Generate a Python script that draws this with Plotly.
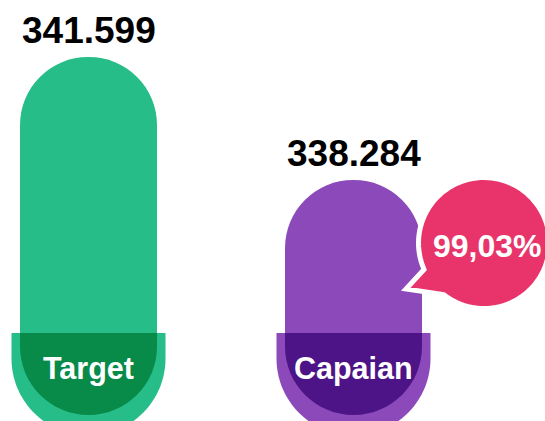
import math
import plotly.graph_objects as go

# ---------------- data ----------------
categories = ["Target", "Capaian"]
values = [341599, 338284]
bar_colors = ["#27BD89", "#8B49BA"]
dark_colors = ["#088A49", "#4D1487"]
bubble_color = "#E8346A"

value_labels = [f"{v:,}".replace(",", ".") for v in values]
pct = values[1] / values[0] * 100
pct_label = f"{pct:.2f}".replace(".", ",") + "%"

# ---------------- scale ----------------
W, H = 545, 421
Y_MIN, Y_MAX = 331790, 343135
k = (Y_MAX - Y_MIN) / H            # data units per pixel
pill_base = Y_MAX - 333 * k        # top of the label caps
bar_floor = Y_MAX - 415 * k        # bars start here (hidden under caps)
label_y = Y_MAX - 368 * k

xs = list(range(len(categories)))
px_per_x = 265.0
x_left = -88.5 / px_per_x
x_right = (W - 88.5) / px_per_x
bar_w = 137 / px_per_x

fig = go.Figure()

# main pill bars (rounded ends; the bottom end is covered by the cap)
fig.add_trace(go.Bar(
    x=xs, y=[v - bar_floor for v in values], base=[bar_floor] * len(values), width=bar_w,
    marker=dict(color=bar_colors, cornerradius="50%", line=dict(width=0)),
    hoverinfo="skip"))


def cap_path(hw, length):
    """Rounded-bottom cap, pixel offsets (y up) relative to its top centre."""
    r = hw
    c = 0.5523 * r
    s = length - r
    return ("M{a},0 L{a},{b} C{a},{d} {e},{f} 0,{f} C{g},{f} {h},{d} {h},{b} L{h},0 Z"
            .format(a=-hw, b=-s, d=-s - c, e=-c, f=-length, g=c, h=hw))


shapes = []
for i in range(len(categories)):
    shapes.append(dict(type="path", path=cap_path(77, 102.5), xref="x", yref="y",
                       xsizemode="pixel", ysizemode="pixel", xanchor=xs[i], yanchor=pill_base,
                       fillcolor=bar_colors[i], line=dict(width=0), layer="above"))
    shapes.append(dict(type="path", path=cap_path(68.5, 82), xref="x", yref="y",
                       xsizemode="pixel", ysizemode="pixel", xanchor=xs[i], yanchor=pill_base,
                       fillcolor=dark_colors[i], line=dict(width=0), layer="above"))

FONT = "Liberation Sans, Arial, Helvetica, sans-serif"
annotations = []
for i, (v, lab, cat) in enumerate(zip(values, value_labels, categories)):
    annotations.append(dict(
        x=xs[i], y=v, text=lab, showarrow=False, xanchor="center", yanchor="bottom",
        yshift=4, font=dict(family=FONT, size=37, color="#000000", weight="bold")))
    annotations.append(dict(
        x=xs[i], y=label_y, text=cat, showarrow=False, xanchor="center", yanchor="middle",
        font=dict(family=FONT, size=30.5, color="#FFFFFF", weight="bold")))

# speech bubble next to Capaian bar (pixel offsets relative to bar top)
cx, cy, R = 130.5, -63.0, 65.5
a_start, a_end = 232.0, 203.7 + 360.0
tip = (cx - 78.0, cy - 46.0)
n = 96
pts = []
for j in range(n + 1):
    a = math.radians(a_start + (a_end - a_start) * j / n)
    pts.append((cx + R * math.cos(a), cy + R * math.sin(a)))
path = "M{:.2f},{:.2f}".format(*pts[0])
for p in pts[1:]:
    path += " L{:.2f},{:.2f}".format(*p)
path += " L{:.2f},{:.2f} Z".format(*tip)

shapes.append(dict(type="path", path=path, xref="x", yref="y",
                   xsizemode="pixel", ysizemode="pixel",
                   xanchor=xs[1], yanchor=values[1],
                   fillcolor=bubble_color, line=dict(color="#FFFFFF", width=5),
                   layer="above"))

annotations.append(dict(
    x=xs[1], y=values[1], text=pct_label, showarrow=False, xanchor="center", yanchor="middle",
    xshift=133.5, yshift=-66, font=dict(family=FONT, size=32, color="#FFFFFF", weight="bold")))

fig.update_layout(
    width=W, height=H, margin=dict(l=0, r=0, t=0, b=0),
    paper_bgcolor="#FFFFFF", plot_bgcolor="#FFFFFF",
    showlegend=False,
    xaxis=dict(range=[x_left, x_right], visible=False, fixedrange=True),
    yaxis=dict(range=[Y_MIN, Y_MAX], visible=False, fixedrange=True),
    shapes=shapes,
    annotations=annotations,
)

fig.write_html("out.html", config={"displayModeBar": False},
               post_script="document.body.style.margin='0';")
